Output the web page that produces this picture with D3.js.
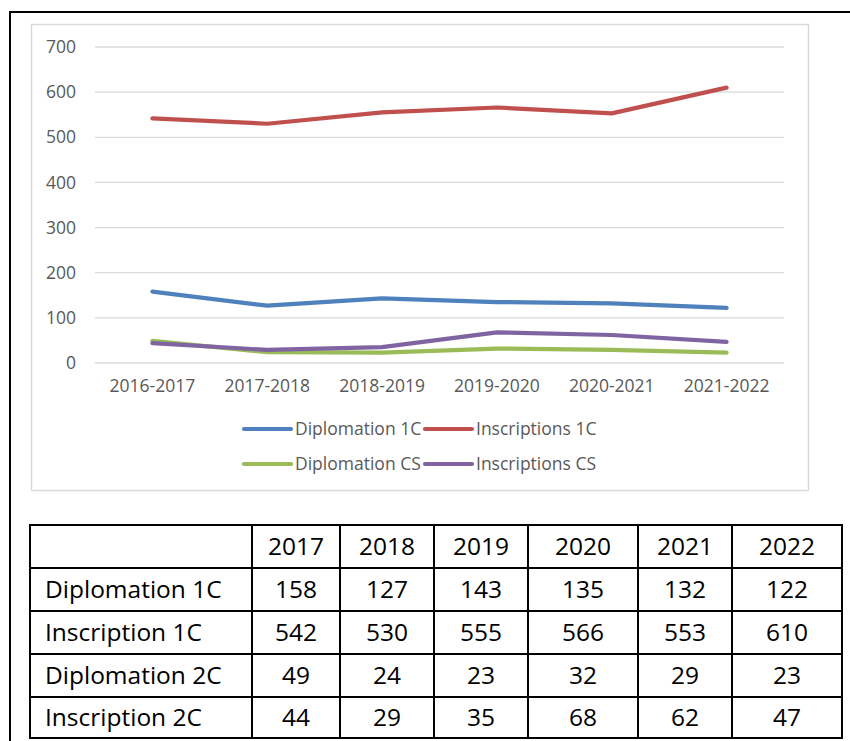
<!DOCTYPE html>
<html>
<head>
<meta charset="utf-8">
<script src="https://cdn.jsdelivr.net/npm/d3@7"></script>
<style>
  body { margin: 0; background: #fff; }
  svg { display: block; }
</style>
</head>
<body>
<div id="chart"></div>
<script>
// School years on the x axis, years in the table header
var categories = ["2016-2017", "2017-2018", "2018-2019", "2019-2020", "2020-2021", "2021-2022"];
var tableYears = ["2017", "2018", "2019", "2020", "2021", "2022"];
var yTicks = [0, 100, 200, 300, 400, 500, 600, 700];

// Series values
var diplomation1C = [158, 127, 143, 135, 132, 122];
var inscriptions1C = [542, 530, 555, 566, 553, 610];
var diplomationCS = [49, 24, 23, 32, 29, 23];
var inscriptionsCS = [44, 29, 35, 68, 62, 47];

var seriesNames = ["Diplomation 1C", "Inscriptions 1C", "Diplomation CS", "Inscriptions CS"];
var tableRowLabels = ["Diplomation 1C", "Inscription 1C", "Diplomation 2C", "Inscription 2C"];

var colors = ["#4f81bd", "#c0504d", "#9bbb59", "#8064a2"];
var allSeries = [diplomation1C, inscriptions1C, diplomationCS, inscriptionsCS];

var width = 850, height = 741;
var chartFont = "'Open Sans', sans-serif";
var tableFont = "'Open Sans', sans-serif";

var svg = d3.select("#chart").append("svg")
  .attr("width", width)
  .attr("height", height);

// Outer frame (only top and left edges are visible)
svg.append("line").attr("x1", 10).attr("x2", width).attr("y1", 12).attr("y2", 12)
  .attr("stroke", "#000").attr("stroke-width", 2);
svg.append("line").attr("x1", 10).attr("x2", 10).attr("y1", 11).attr("y2", height)
  .attr("stroke", "#000").attr("stroke-width", 2);

// Chart area box
svg.append("rect")
  .attr("x", 31.5).attr("y", 24.5).attr("width", 777).attr("height", 466)
  .attr("fill", "#fff").attr("stroke", "#d9d9d9").attr("stroke-width", 1.5);

var x = d3.scaleBand().domain(categories).range([95, 784]);
var y = d3.scaleLinear().domain([0, 700]).range([363, 47]);

// Gridlines
svg.append("g").selectAll("line")
  .data(yTicks)
  .enter().append("line")
  .attr("x1", 95).attr("x2", 784)
  .attr("y1", function(d) { return y(d); })
  .attr("y2", function(d) { return y(d); })
  .attr("stroke", "#d9d9d9").attr("stroke-width", 1.3);

// Y axis labels
var yAxis = d3.axisLeft(y).tickValues(yTicks).tickSize(0).tickPadding(0);
var yg = svg.append("g").attr("transform", "translate(76,0)").call(yAxis);
yg.select(".domain").remove();
yg.selectAll("text")
  .attr("fill", "#595959")
  .style("font-family", chartFont)
  .style("font-size", "17.5px");

// X axis labels
var xAxis = d3.axisBottom(x).tickSize(0).tickPadding(0);
var xg = svg.append("g").attr("transform", "translate(0,380)").call(xAxis);
xg.select(".domain").remove();
xg.selectAll("text")
  .attr("fill", "#595959")
  .style("font-family", chartFont)
  .style("font-size", "17.5px");

// Lines
var line = d3.line()
  .x(function(d, i) { return x(categories[i]) + x.bandwidth() / 2; })
  .y(function(d) { return y(d); });

svg.append("g").selectAll("path")
  .data(allSeries)
  .enter().append("path")
  .attr("d", line)
  .attr("fill", "none")
  .attr("stroke", function(d, i) { return colors[i]; })
  .attr("stroke-width", 4.2)
  .attr("stroke-linecap", "round")
  .attr("stroke-linejoin", "round");

// Legend (2 x 2)
var legendPos = [[244, 429], [425, 429], [244, 464], [425, 464]];
var legend = svg.append("g").selectAll("g")
  .data(seriesNames)
  .enter().append("g")
  .attr("transform", function(d, i) { return "translate(" + legendPos[i][0] + "," + legendPos[i][1] + ")"; });
legend.append("line")
  .attr("x1", 0).attr("x2", 47).attr("y1", 0).attr("y2", 0)
  .attr("stroke", function(d, i) { return colors[i]; })
  .attr("stroke-width", 4.2)
  .attr("stroke-linecap", "round");
legend.append("text")
  .attr("x", 51).attr("y", 0).attr("dy", "0.35em")
  .attr("fill", "#595959")
  .style("font-family", chartFont)
  .style("font-size", "17.5px")
  .text(function(d) { return d; });

// Data table under the chart
var colEdges = [30, 252, 340, 434, 528, 638, 732, 842];
var rowEdges = [525, 568, 611, 654, 697, 738];
var tableRows = [tableYears].concat(allSeries);

var table = svg.append("g");
rowEdges.forEach(function(ry) {
  table.append("line").attr("x1", colEdges[0] - 1).attr("x2", colEdges[colEdges.length - 1] + 1)
    .attr("y1", ry).attr("y2", ry).attr("stroke", "#000").attr("stroke-width", 2);
});
colEdges.forEach(function(cx) {
  table.append("line").attr("x1", cx).attr("x2", cx)
    .attr("y1", rowEdges[0]).attr("y2", rowEdges[rowEdges.length - 1])
    .attr("stroke", "#000").attr("stroke-width", 2);
});

tableRows.forEach(function(row, r) {
  var cy = (rowEdges[r] + rowEdges[r + 1]) / 2;
  if (r > 0) {
    table.append("text")
      .attr("x", 45).attr("y", cy).attr("dy", "0.36em")
      .style("font-family", tableFont).style("font-size", "24.5px")
      .attr("fill", "#000")
      .text(tableRowLabels[r - 1]);
  }
  row.forEach(function(v, c) {
    table.append("text")
      .attr("x", (colEdges[c + 1] + colEdges[c + 2]) / 2)
      .attr("y", cy).attr("dy", "0.36em")
      .attr("text-anchor", "middle")
      .style("font-family", tableFont).style("font-size", "24.5px")
      .attr("fill", "#000")
      .text(v);
  });
});
</script>
</body>
</html>
